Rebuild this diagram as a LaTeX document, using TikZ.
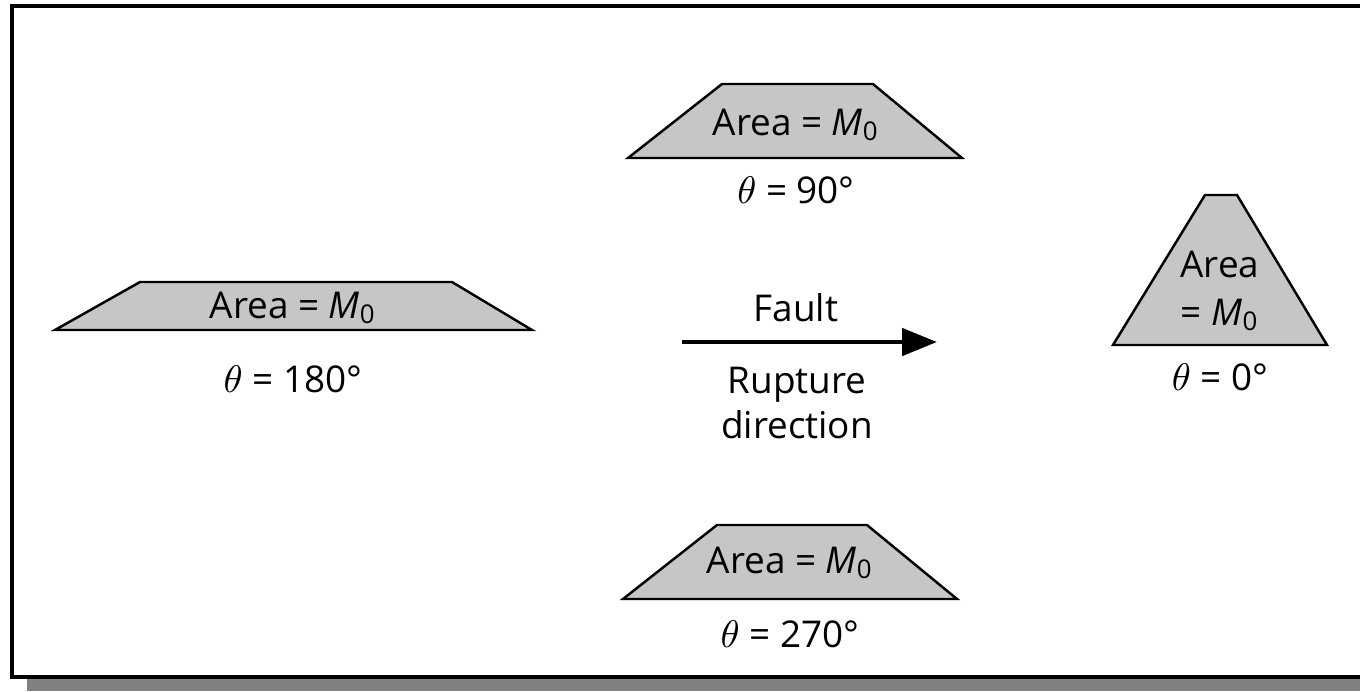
\documentclass[tikz,border=0pt]{standalone}
\usepackage{fontspec}
\setmainfont{Open Sans}
\usetikzlibrary{arrows.meta}

\begin{document}
\begin{tikzpicture}[x=0.1mm, y=-0.1mm, line join=miter,
    font=\fontsize{10.5}{12.6}\selectfont,
    lobe/.style={draw=black, line width=0.7pt, fill=gray!45},
    lbl/.style={anchor=base, inner sep=0pt, align=center}]
  % 1360x691 frame (fixes the aspect ratio)
  \useasboundingbox (0,0) rectangle (1360,691);
  \clip (0,0) rectangle (1360,691);
  \fill[gray] (27,679) rectangle (1360,691);
  \draw[line width=0.9pt] (12,6) rectangle (1380,677);

  % theta = 90
  \draw[lobe] (628,158) -- (722,84) -- (873,84) -- (962,158) -- cycle;
  \node[lbl] (area90) at (796,135) {Area = \textit{M}\textsubscript{0}};
  \node[lbl] (th90) at (796,203) {$\theta$ = 90°};

  % theta = 180
  \draw[lobe] (55,330) -- (140,282) -- (452,282) -- (532,330) -- cycle;
  \node[lbl] (area180) at (293,318) {Area = \textit{M}\textsubscript{0}};
  \node[lbl] (th180) at (293,392) {$\theta$ = 180°};

  % theta = 0 (base = last line)
  \draw[lobe] (1113,345) -- (1205,195) -- (1237,195) -- (1327,345) -- cycle;
  \node[lbl] (area0) at (1220,325) {Area\\[1pt]= \textit{M}\textsubscript{0}};
  \node[lbl] (th0) at (1220,390) {$\theta$ = 0°};

  % theta = 270
  \draw[lobe] (623,599) -- (717,525) -- (867,525) -- (957,599) -- cycle;
  \node[lbl] (area270) at (790,573) {Area = \textit{M}\textsubscript{0}};
  \node[lbl] (th270) at (790,647) {$\theta$ = 270°};

  % Fault arrow
  \coordinate (ftail) at (682,342);
  \coordinate (fhead) at (937,342);
  \draw[line width=1.4pt, -{Triangle[length=3.5mm, width=2.7mm]}] (ftail) -- (fhead);
  \node[lbl] (fault) at (796,321) {Fault};
  \node[lbl] (rupture) at (797,438) {Rupture\\direction};
\end{tikzpicture}
\end{document}
